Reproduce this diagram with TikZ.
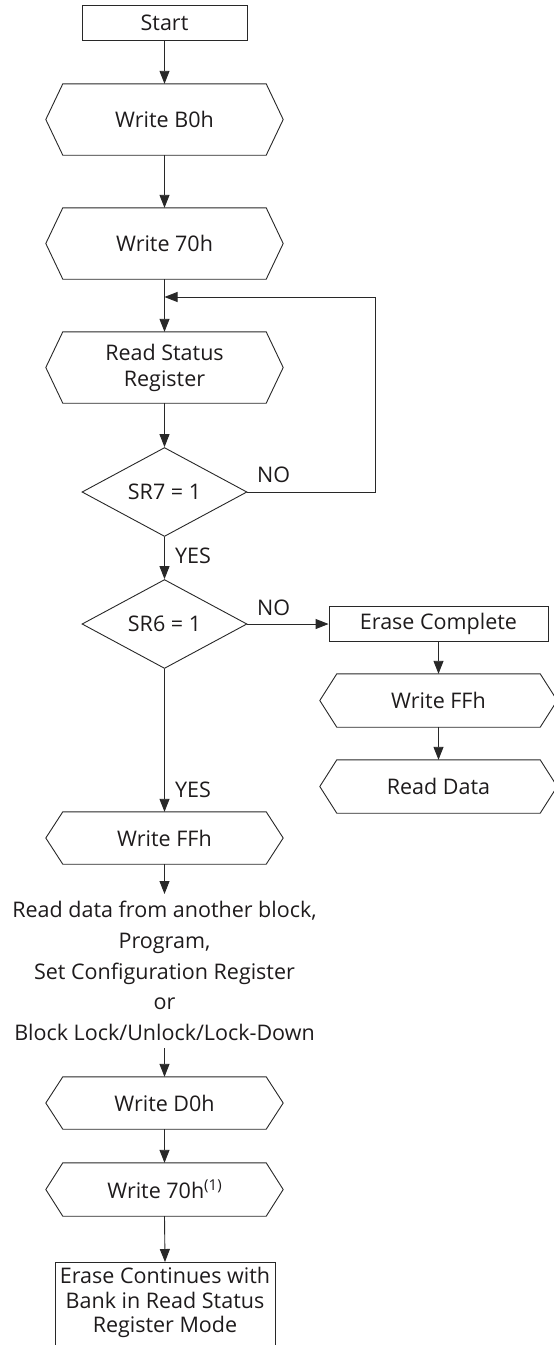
\documentclass[tikz,border=0pt]{standalone}
\usepackage{fontspec}
\setmainfont{Open Sans}
\usetikzlibrary{arrows.meta,shapes.geometric}
\definecolor{ink}{RGB}{30,27,28}
\definecolor{linec}{RGB}{40,40,40}
\newcommand\hexagonnode[5]{%
  \node[hexin,minimum height=#4pt] (#1) at (#2,#3) {#5};
  \draw[lin] (#1.north west) -- (#1.north east) -- ([xshift=17pt]#1.east) -- (#1.south east) -- (#1.south west) -- ([xshift=-17pt]#1.west) -- cycle;}
\begin{document}
\begin{tikzpicture}[x=1pt,y=-1pt,
  font=\fontsize{21.5}{26}\selectfont, text=ink,
  lin/.style={draw=linec,line width=0.9pt},
  arr/.style={lin,-{Triangle[length=13pt,width=10pt]}},
  hexin/.style={minimum width=203pt,inner sep=0pt,align=center},
  boxnode/.style={draw=linec,line width=0.9pt,inner sep=0pt,align=center},
  dia/.style={diamond,draw=linec,line width=0.9pt,minimum width=165pt,minimum height=88pt,inner sep=0pt},
  lbl/.style={anchor=west,inner sep=0pt}]
\useasboundingbox (0,0) rectangle (554,1345);
\clip (0,0) rectangle (554,1345);
\fill[white] (0,0) rectangle (554,1345);
\node[boxnode,minimum width=165pt,minimum height=35pt] (start) at (164.5,22.5) {Start};
\hexagonnode{wb0}{164.5}{119.5}{71}{Write B0h}
\hexagonnode{w70}{164.5}{243.5}{71}{Write 70h}
\coordinate (join) at (164.5,297);
\hexagonnode{rsr}{164.5}{367.5}{71}{Read Status\\Register}
\node[dia] (sr7) at (164.5,492) {SR7 = 1};
\node[dia] (sr6) at (164.5,624) {SR6 = 1};
\node[boxnode,minimum width=219pt,minimum height=35pt] (ec) at (438.5,624) {Erase Complete};
\hexagonnode{wffr}{438.5}{700.5}{53}{Write FFh}
\hexagonnode{rd}{438.5}{786.5}{53}{Read Data}
\hexagonnode{wff}{164.5}{838}{52}{Write FFh}
\node[align=center,inner xsep=0pt,inner ysep=7pt,anchor=north,font=\fontsize{21.5}{30.75}\selectfont] (txt) at (164.5,894) {Read data from another block,\\Program,\\Set Configuration Register\\or\\Block Lock/Unlock/Lock-Down};
\hexagonnode{wd0}{164.5}{1103}{52}{Write D0h}
\hexagonnode{w70b}{164.5}{1189.5}{53}{Write 70h\raisebox{0.36em}{\fontsize{15}{15}\selectfont(1)}}
\node[boxnode,anchor=north,minimum width=220pt,inner ysep=5pt,text depth=45pt,font=\fontsize{21.5}{24.5}\selectfont] (ecw) at (165,1262) {Erase Continues with\\Bank in Read Status\\Register Mode};
\node[lbl] (no1) at (257,475) {NO};
\node[lbl] (yes1) at (175,556) {YES};
\node[lbl] (no2) at (257,608) {NO};
\node[lbl] (yes2) at (175,790) {YES};
\draw[arr] (start.south) -- (wb0.north);
\draw[arr] (wb0.south) -- (w70.north);
\draw[arr] (w70.south) -- (rsr.north);
\draw[arr] (sr7.east) -- ++(128,0) |- (join);
\draw[arr] (rsr.south) -- (sr7.north);
\draw[arr] (sr7.south) -- (sr6.north);
\draw[arr] (sr6.east) -- (ec.west);
\draw[arr] (ec.south) -- (wffr.north);
\draw[arr] (wffr.south) -- (rd.north);
\draw[arr] (sr6.south) -- (wff.north);
\draw[arr] (wff.south) -- (txt.north);
\draw[arr] (txt.south) -- (wd0.north);
\draw[arr] (wd0.south) -- (w70b.north);
\draw[arr] (w70b.south) -- (ecw.north);
\end{tikzpicture}
\end{document}
